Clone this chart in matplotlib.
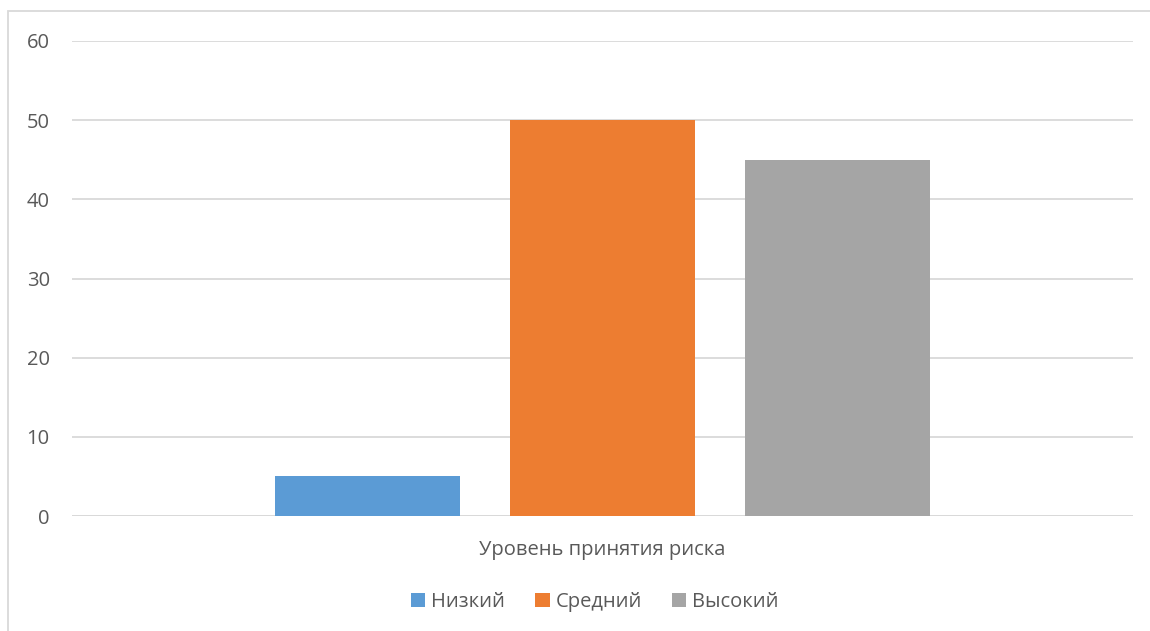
import matplotlib
matplotlib.use("Agg")
import matplotlib.pyplot as plt
from matplotlib.patches import Rectangle, Patch

categories = ["Уровень принятия риска"]
series_names = ["Низкий", "Средний", "Высокий"]
series_values = [5, 50, 45]
series_colors = ["#5B9BD5", "#ED7D31", "#A5A5A5"]
y_ticks = [0, 10, 20, 30, 40, 50, 60]

plt.rcParams["font.family"] = ["Open Sans", "DejaVu Sans"]

W, H = 1150, 631
fig = plt.figure(figsize=(W / 100, H / 100), dpi=100)
fig.patch.set_facecolor("white")

# chart frame (continues past the right and bottom edges)
fig.patches.append(Rectangle((8 / W, -0.1), 1.2, 1 - 11 / H + 0.1,
                             transform=fig.transFigure, fill=False,
                             edgecolor="#D9D9D9", linewidth=1.3))

ax = fig.add_axes([72 / W, 1 - 516 / H, (1133 - 72) / W, (516 - 41) / H])

width = 0.1744
step = 0.2215
for i, (name, val, col) in enumerate(zip(series_names, series_values, series_colors)):
    ax.bar(0 + (i - 1) * step, val, width=width, color=col, label=name, zorder=3)

ax.set_xlim(-0.5, 0.5)
ax.set_ylim(0, 60)
ax.set_yticks(y_ticks)
ax.set_yticklabels([str(t) for t in y_ticks], fontsize=14.5, color="#595959")
ax.tick_params(axis="y", length=0, pad=16)
ax.set_xticks([0])
ax.set_xticklabels(categories, fontsize=14.5, color="#595959")
ax.tick_params(axis="x", length=0, pad=17)
ax.grid(axis="y", color="#D9D9D9", linewidth=1.3, zorder=0)
for s in ax.spines.values():
    s.set_visible(False)
ax.axhline(0, color="#D9D9D9", linewidth=1.3, zorder=2)

handles = [Patch(facecolor=c, edgecolor="none") for c in series_colors]
fig.legend(handles, series_names, loc="center", bbox_to_anchor=(595 / W, 1 - 602 / H),
           ncol=3, frameon=False, fontsize=14.5, labelcolor="#595959",
           handlelength=0.7, handleheight=0.7, handletextpad=0.3, columnspacing=1.5)

fig.savefig("out.png", dpi=100)
